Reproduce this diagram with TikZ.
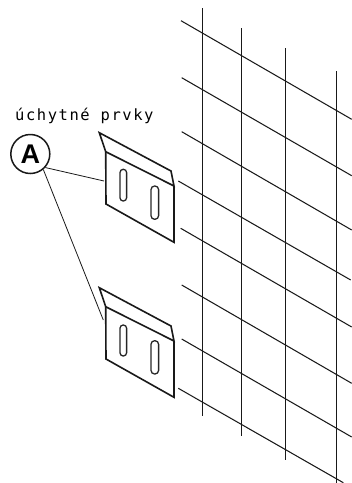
\documentclass[tikz,border=0pt]{standalone}
\usepackage{fontspec}
\setmainfont{Liberation Sans}
\newfontfamily\labelfont[LetterSpace=10]{DejaVu Sans Mono}
\tikzset{
  gridline/.style={line width=1.05pt,draw=black!90},
  bracket/.style={line width=1.6pt,draw=black!90,line join=miter},
  slotline/.style={line width=1.3pt,draw=black!85},
  leader/.style={line width=0.8pt,draw=black!90},
  callout/.style={circle,draw=black!90,line width=1.5pt,minimum size=39pt,inner sep=0pt,font=\bfseries\fontsize{27}{27}\selectfont},
  caption/.style={anchor=base west,inner sep=0pt,font=\labelfont\fontsize{15.5}{15.5}\selectfont}
}
\begin{document}
\begin{tikzpicture}[x=1pt,y=-1pt]
\useasboundingbox (0,0) rectangle (352,483);
% grid verticals
\foreach \xv/\ya/\yb in {202.2/8/416,241.2/28/436,285.2/48/460,336.3/71/483}
  \draw[gridline] (\xv,\ya) -- (\xv,\yb);
% grid diagonals
\foreach \xa/\ya/\xb/\yb in {
  181/20.7/351.7/119.3,
  181.7/77.7/351.7/175.7,
  181.7/131.7/351.7/230,
  178.3/181/350.7/280,
  180.7/228.3/351.7/327,
  181.7/285/351.7/383.3,
  181.7/339/351.7/437,
  178.3/388.3/343.3/482.7}
  \draw[gridline] (\xa,\ya) -- (\xb,\yb);
% text and callout
\node[caption] at (15,120.7) {úchytné prvky};
\node[callout] (a) at (30.3,154) {A};
\coordinate (t1) at (104,181);
\coordinate (t2) at (103.3,320);
\draw[leader] (a.-42) -- (t1);
\draw[leader] (a.-50) -- (t2);
% brackets
\foreach \dy/\sa/\sb/\sc/\sd in {0/169.3/201/186/219.3, 155/325/356/340.7/374}{
  \draw[bracket] (105.7,151.7+\dy) -- (99.3,132.7+\dy) -- (171,171+\dy) -- (174,186+\dy) -- cycle;
  \draw[bracket] (105.7,151.7+\dy) -- (106,204+\dy) -- (174,242.3+\dy) -- (174,186+\dy);
  \draw[slotline,rounded corners=3.2pt] (120,\sa) rectangle (126.6,\sb);
  \draw[slotline,rounded corners=3.6pt] (151,\sc) rectangle (158.6,\sd);
}
\end{tikzpicture}
\end{document}
